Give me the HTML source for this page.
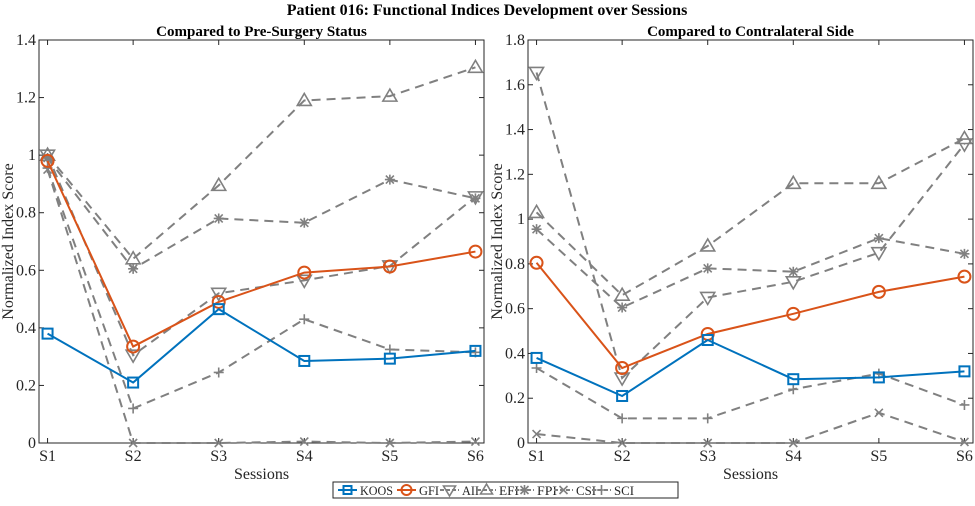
<!DOCTYPE html>
<html><head><meta charset="utf-8"><style>
html,body{margin:0;padding:0;background:#fff;}
svg{display:block;font-family:"Liberation Serif",serif;}
</style></head><body>
<svg id="chart" width="975" height="506" viewBox="0 0 975 506" xmlns="http://www.w3.org/2000/svg">
<text x="487" y="15" text-anchor="middle" font-size="16" font-weight="bold">Patient 016: Functional Indices Development over Sessions</text>
</svg>
<script>
const sessions = ["S1","S2","S3","S4","S5","S6"];
const seriesNames = ["KOOS","GFI","AII","EFI","FPI","CSI","SCI"];
// Left panel: compared to pre-surgery
const leftKOOS = [0.38,0.21,0.465,0.285,0.293,0.32];
const leftGFI  = [0.98,0.335,0.49,0.592,0.613,0.665];
const leftAII  = [1.0,0.305,0.52,0.565,0.615,0.855];
const leftEFI  = [1.0,0.64,0.895,1.19,1.205,1.305];
const leftFPI  = [0.99,0.605,0.78,0.765,0.915,0.85];
const leftCSI  = [0.95,0,0,0.005,0,0.005];
const leftSCI  = [0.955,0.12,0.245,0.43,0.325,0.315];
// Right panel: compared to contralateral side
const rightKOOS = [0.38,0.21,0.46,0.285,0.293,0.32];
const rightGFI  = [0.805,0.335,0.487,0.577,0.675,0.743];
const rightAII  = [1.655,0.29,0.65,0.72,0.85,1.335];
const rightEFI  = [1.03,0.66,0.88,1.16,1.16,1.36];
const rightFPI  = [0.955,0.605,0.78,0.765,0.915,0.845];
const rightCSI  = [0.04,0,0,0,0.135,0.005];
const rightSCI  = [0.335,0.11,0.11,0.24,0.31,0.17];
const leftTicks = ["0","0.2","0.4","0.6","0.8","1","1.2","1.4"];
const rightTicks = ["0","0.2","0.4","0.6","0.8","1","1.2","1.4","1.6","1.8"];

const NS="http://www.w3.org/2000/svg";
const svg=document.getElementById('chart');
const BLUE="#0072BD",ORANGE="#D95319",GRAY="#808080";
const styles={KOOS:{c:BLUE,m:'sq',d:null},GFI:{c:ORANGE,m:'circ',d:null},AII:{c:GRAY,m:'tdown',d:'9,6'},EFI:{c:GRAY,m:'tup',d:'9,6'},FPI:{c:GRAY,m:'ast',d:'9,6'},CSI:{c:GRAY,m:'x',d:'9,6'},SCI:{c:GRAY,m:'plus',d:'9,6'}};
function mk(tag,attrs,parent){const e=document.createElementNS(NS,tag);for(const k in attrs)e.setAttribute(k,attrs[k]);(parent||svg).appendChild(e);return e;}
function marker(g,type,x,y,c,s){
  s=s||6;
  let e;
  if(type==='sq') e=mk('rect',{x:x-s+1,y:y-s+1,width:2*s-2,height:2*s-2,fill:'none',stroke:c,'stroke-width':2},g);
  else if(type==='circ') e=mk('circle',{cx:x,cy:y,r:s,fill:'none',stroke:c,'stroke-width':2},g);
  else if(type==='tup') e=mk('polygon',{points:`${x},${y-s-1} ${x-s-1},${y+s-1} ${x+s+1},${y+s-1}`,fill:'none',stroke:c,'stroke-width':1.6},g);
  else if(type==='tdown') e=mk('polygon',{points:`${x},${y+s+1} ${x-s-1},${y-s+1} ${x+s+1},${y-s+1}`,fill:'none',stroke:c,'stroke-width':1.6},g);
  else if(type==='x') e=mk('path',{d:`M${x-4},${y-4}L${x+4},${y+4}M${x-4},${y+4}L${x+4},${y-4}`,stroke:c,'stroke-width':1.6},g);
  else if(type==='plus') e=mk('path',{d:`M${x-5},${y}L${x+5},${y}M${x},${y-5}L${x},${y+5}`,stroke:c,'stroke-width':1.6},g);
  else if(type==='ast') e=mk('path',{d:`M${x-5},${y}L${x+5},${y}M${x},${y-5}L${x},${y+5}M${x-4},${y-4}L${x+4},${y+4}M${x-4},${y+4}L${x+4},${y-4}`,stroke:c,'stroke-width':1.6},g);
  return e;
}
function panel(id,title,L,R,T,B,ymax,ticks,data){
  const g=mk('g',{});
  
  
  const xs=i=>L+(i+0.1)/5.2*(R-L);
  const ys=v=>B-v/ymax*(B-T);
  const t=mk('text',{x:(L+R)/2,y:T-4,'text-anchor':'middle','font-size':15,'font-weight':'bold'},g);
  t.textContent=title;
  
  
  ticks.forEach(tk=>{const v=parseFloat(tk);const y=ys(v);
    mk('line',{x1:L,x2:L+5,y1:y,y2:y,stroke:'#262626'},g);
    mk('line',{x1:R,x2:R-5,y1:y,y2:y,stroke:'#262626'},g);
    const tt=mk('text',{x:L-3,y:y+5,'text-anchor':'end','font-size':16,fill:'#262626'},g);tt.textContent=tk;
    
    
  });
  sessions.forEach((s,i)=>{const x=xs(i);
    mk('line',{x1:x,x2:x,y1:B,y2:B-5,stroke:'#262626'},g);
    mk('line',{x1:x,x2:x,y1:T,y2:T+5,stroke:'#262626'},g);
    const tt=mk('text',{x:x,y:B+18,'text-anchor':'middle','font-size':16,fill:'#262626'},g);tt.textContent=s;
    
    
  });
  const xl=mk('text',{x:(L+R)/2,y:B+36,'text-anchor':'middle','font-size':16,fill:'#262626'},g);xl.textContent='Sessions';
  
  
  const yl=mk('text',{x:0,y:0,'text-anchor':'middle','font-size':16,fill:'#262626',transform:`translate(${L-26},${(T+B)/2}) rotate(-90)`},g);yl.textContent='Normalized Index Score';
  
  
  mk('rect',{x:L,y:T,width:R-L,height:B-T,fill:'none',stroke:'#262626','stroke-width':1},g);
  const order=["SCI","CSI","FPI","EFI","AII","GFI","KOOS"];
  order.forEach(n=>{const vals=data[n];const st=styles[n];
    const sg=mk('g',{},g);
    
    
    const pts=vals.map((v,i)=>xs(i)+','+ys(v)).join(' ');
    const a={points:pts,fill:'none',stroke:st.c,'stroke-width':2};
    if(st.d)a['stroke-dasharray']=st.d;
    mk('polyline',a,sg);
    vals.forEach((v,i)=>{const m=marker(sg,st.m,xs(i),ys(v),st.c);
      
      
    });
  });
}
panel('left-panel','Compared to Pre-Surgery Status',39,484,40,443,1.4,leftTicks,
  {KOOS:leftKOOS,GFI:leftGFI,AII:leftAII,EFI:leftEFI,FPI:leftFPI,CSI:leftCSI,SCI:leftSCI});
panel('right-panel','Compared to Contralateral Side',528,973,40,443,1.8,rightTicks,
  {KOOS:rightKOOS,GFI:rightGFI,AII:rightAII,EFI:rightEFI,FPI:rightFPI,CSI:rightCSI,SCI:rightSCI});
// legend
const lg=mk('g',{});


mk('rect',{x:333,y:482,width:345,height:16,fill:'#fff',stroke:'#262626'},lg);
const lx=[338,397,440,477,515,554,592];
const lw=[33,20,17,20,20,20,20];
seriesNames.forEach((n,i)=>{const st=styles[n];const x0=lx[i],y=490;
  const eg=mk('g',{},lg);
  
  
  const a={x1:x0,x2:x0+19,y1:y,y2:y,stroke:st.c,'stroke-width':2};
  if(st.d)a['stroke-dasharray']='4,2';
  mk('line',a,eg);
  marker(eg,st.m,x0+9.5,y,st.c,5);
  const t=mk('text',{x:x0+22,y:y+5,'font-size':13,fill:'#262626',textLength:lw[i],lengthAdjust:'spacingAndGlyphs'},eg);t.textContent=n;
});
</script>
</body></html>
